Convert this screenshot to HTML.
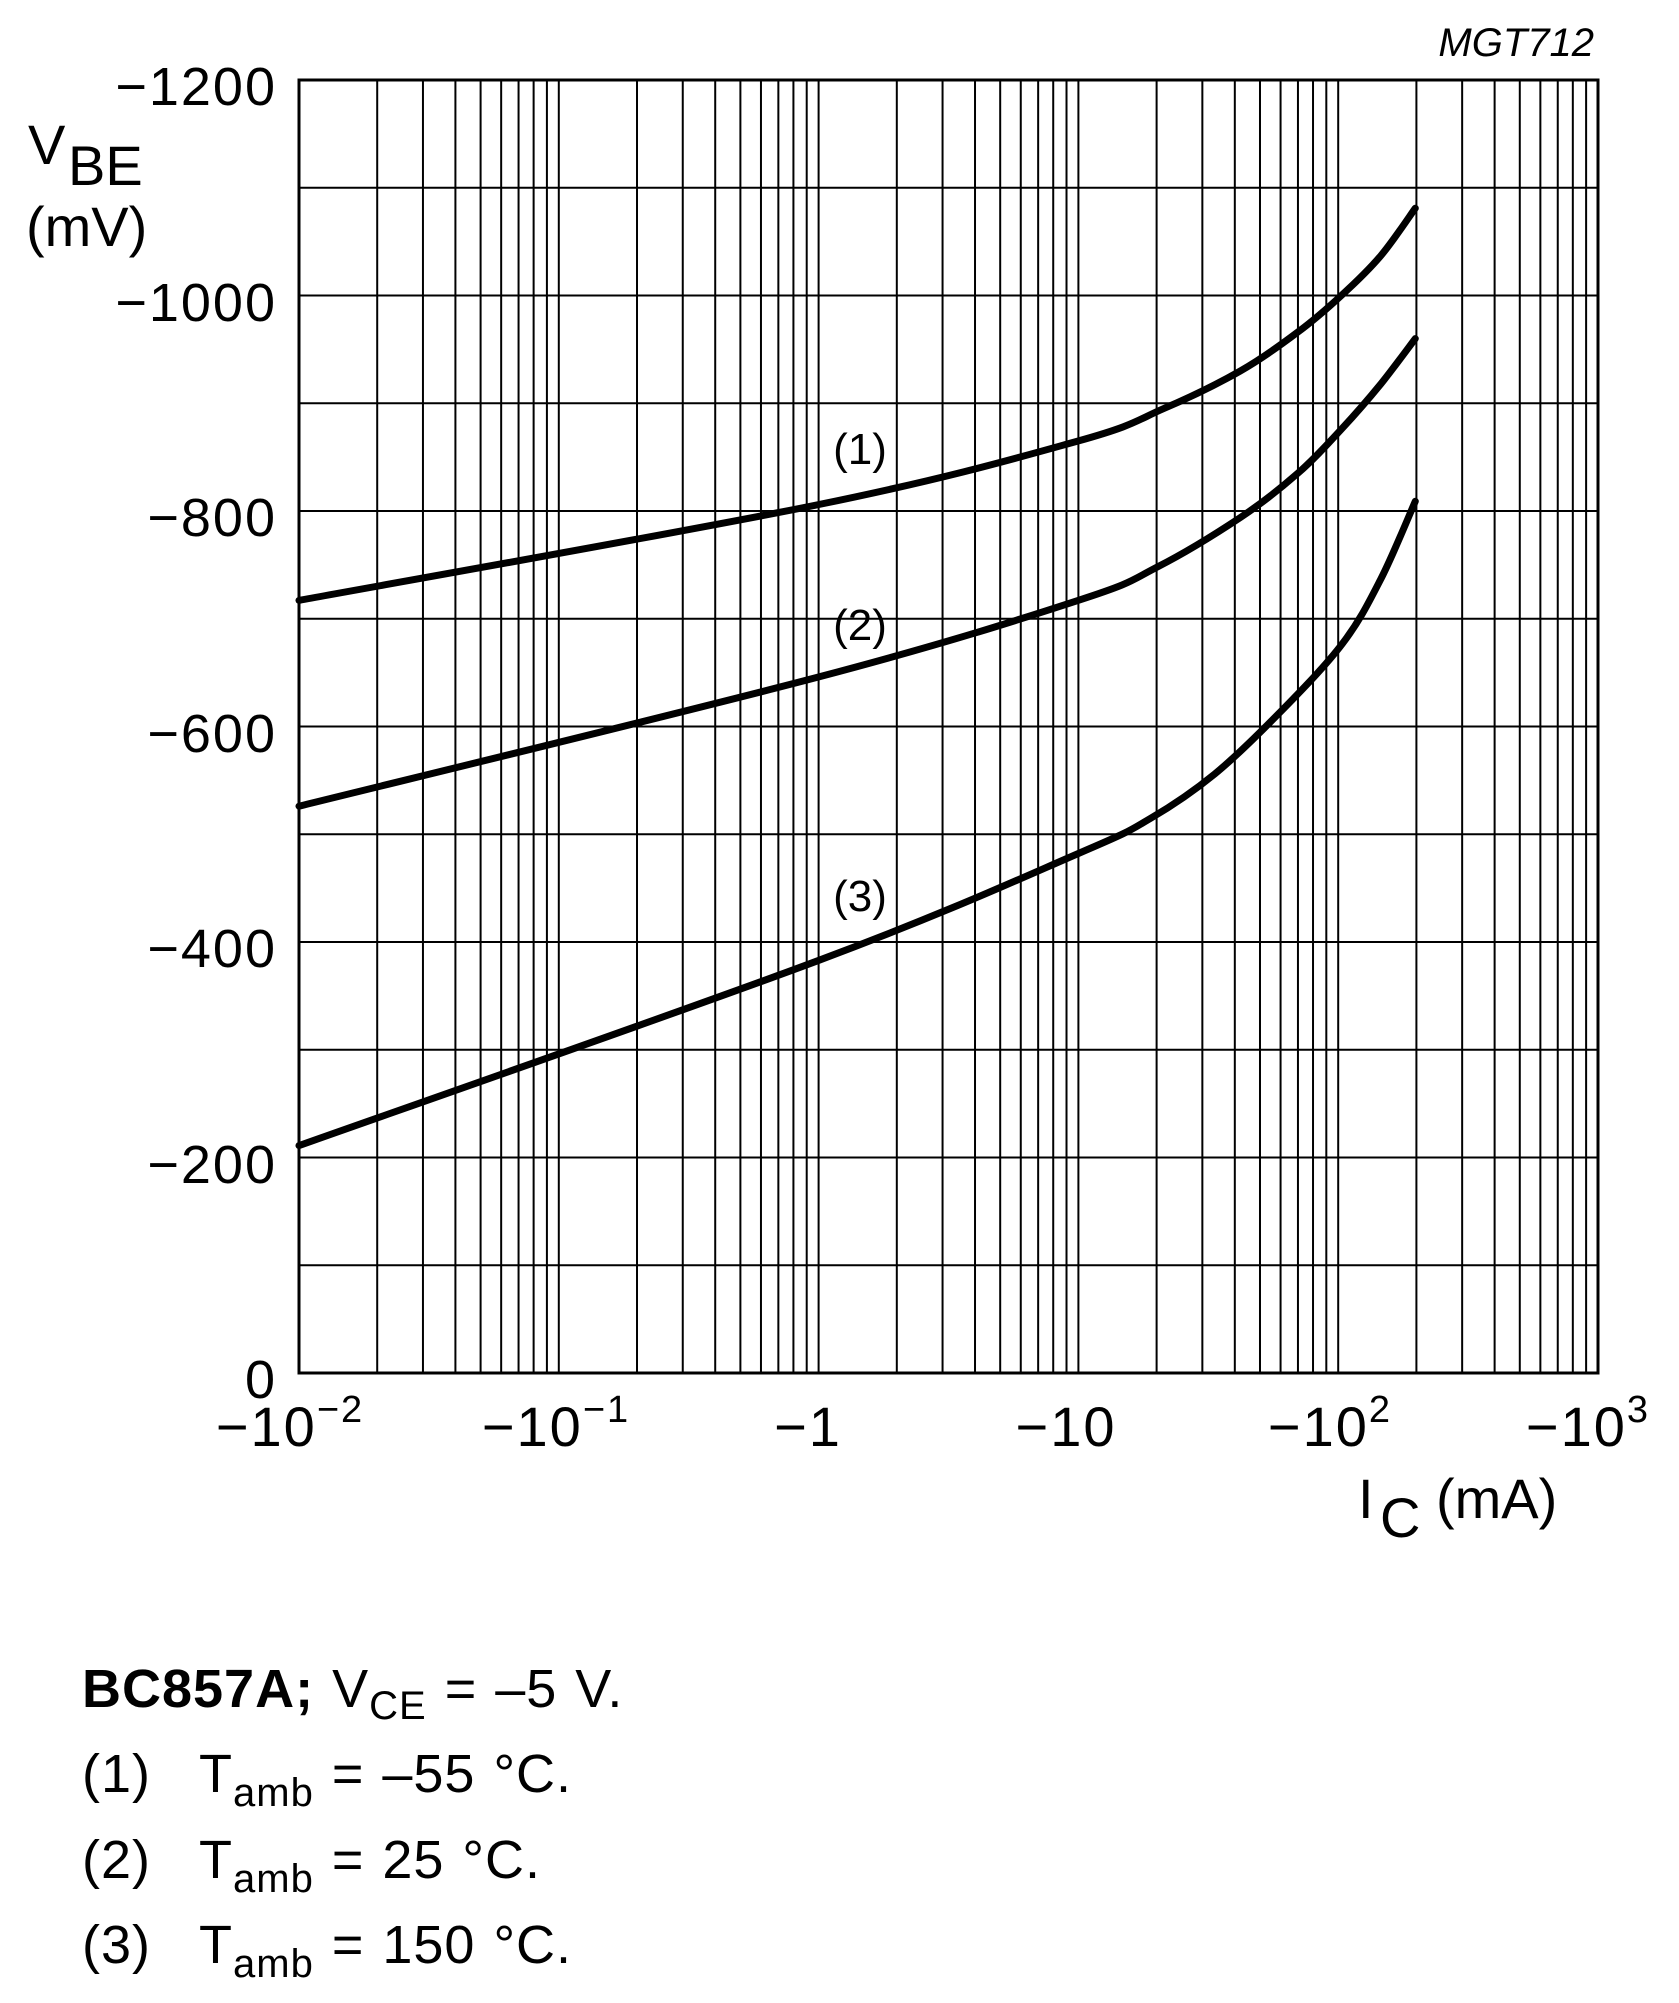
<!DOCTYPE html>
<html><head><meta charset="utf-8"><style>
html,body{margin:0;padding:0;background:#fff;}
svg{display:block;font-family:"Liberation Sans",Arial,sans-serif;}
</style></head><body>
<svg id="s" width="1679" height="2003" viewBox="0 0 1679 2003" xmlns="http://www.w3.org/2000/svg">
<g id="grid" stroke="#000" stroke-width="2" fill="none"></g>
<rect x="299" y="80" width="1299" height="1293" fill="none" stroke="#000" stroke-width="3"/>
<g id="curves" stroke="#000" stroke-width="7" fill="none" stroke-linejoin="round" stroke-linecap="round"></g>
<text x="1594" y="56" font-size="40" font-style="italic" text-anchor="end">MGT712</text>
<g font-size="54" text-anchor="end" letter-spacing="2">
<text x="277" y="105">−1200</text>
<text x="277" y="321">−1000</text>
<text x="277" y="536">−800</text>
<text x="277" y="752">−600</text>
<text x="277" y="967">−400</text>
<text x="277" y="1183">−200</text>
<text x="277" y="1398">0</text>
</g>
<text x="28" y="164" font-size="56">V</text>
<text x="68" y="185" font-size="56">BE</text>
<text x="26" y="246" font-size="56">(mV)</text>
<g font-size="56" text-anchor="middle" letter-spacing="2">
<text x="290" y="1446">−10<tspan font-size="38" dy="-24">−2</tspan></text>
<text x="556" y="1446">−10<tspan font-size="38" dy="-24">−1</tspan></text>
<text x="808" y="1446">−1</text>
<text x="1066" y="1446">−10</text>
<text x="1330" y="1446">−10<tspan font-size="38" dy="-24">2</tspan></text>
<text x="1588" y="1446">−10<tspan font-size="38" dy="-24">3</tspan></text>
</g>
<text x="1358" y="1518" font-size="56">I</text>
<text x="1380" y="1537" font-size="56">C</text>
<text x="1436" y="1518" font-size="56">(mA)</text>
<g font-size="44" text-anchor="middle">
<text x="860" y="464">(1)</text>
<text x="860" y="640">(2)</text>
<text x="860" y="911">(3)</text>
</g>
<g font-size="54" letter-spacing="1" word-spacing="2">
<text x="82" y="1707"><tspan font-weight="bold">BC857A;</tspan> V<tspan font-size="40" dy="12">CE</tspan><tspan dy="-12"> = –5 V.</tspan></text>
<text x="82" y="1792">(1)</text><text x="199" y="1792">T<tspan font-size="40" dy="14">amb</tspan><tspan dy="-14"> = –55 °C.</tspan></text>
<text x="82" y="1878">(2)</text><text x="199" y="1878">T<tspan font-size="40" dy="14">amb</tspan><tspan dy="-14"> = 25 °C.</tspan></text>
<text x="82" y="1963">(3)</text><text x="199" y="1963">T<tspan font-size="40" dy="14">amb</tspan><tspan dy="-14"> = 150 °C.</tspan></text>
</g>
</svg>
<script>
var L=299,R=1598,T=80,B=1373,D=(R-L)/5,NS="http://www.w3.org/2000/svg";
var g=document.getElementById('grid');
function ln(x1,y1,x2,y2){var e=document.createElementNS(NS,'line');e.setAttribute('x1',x1);e.setAttribute('y1',y1);e.setAttribute('x2',x2);e.setAttribute('y2',y2);g.appendChild(e);}
for(var d=0;d<5;d++)for(var k=1;k<=9;k++){var x=L+(d+Math.log10(k))*D;ln(x,T,x,B);}
for(var v=1;v<12;v++){var y=B-v*(B-T)/12;ln(L,y,R,y);}
function X(dx){return L+((dx-233)/203.4)*D;}
function Y(mv){return B-mv*(B-T)/1200;}
var c=[
[[233,717],[640,806],[843,865],[910,895],[970,930],[1015,966],[1050,1001],[1080,1037],[1107,1081]],
[[233,526],[640,646],[843,717],[905,748],[970,794],[1015,835],[1050,877],[1080,918],[1107,960]],
[[233,211],[640,383],[843,482],[900,515],[950,556],[1000,612],[1050,677],[1080,737],[1107,809]]];
var cg=document.getElementById('curves');
c.forEach(function(p){
  var P=p.map(function(q){return [X(q[0]),Y(q[1])];});
  var s='M'+P[0][0].toFixed(1)+','+P[0][1].toFixed(1);
  for(var i=0;i<P.length-1;i++){
    var p0=P[Math.max(0,i-1)],p1=P[i],p2=P[i+1],p3=P[Math.min(P.length-1,i+2)];
    var c1=[p1[0]+(p2[0]-p0[0])/6,p1[1]+(p2[1]-p0[1])/6];
    var c2=[p2[0]-(p3[0]-p1[0])/6,p2[1]-(p3[1]-p1[1])/6];
    s+=' C'+c1[0].toFixed(1)+','+c1[1].toFixed(1)+' '+c2[0].toFixed(1)+','+c2[1].toFixed(1)+' '+p2[0].toFixed(1)+','+p2[1].toFixed(1);
  }
  var e=document.createElementNS(NS,'path');e.setAttribute('d',s);cg.appendChild(e);});
</script>
</body></html>
